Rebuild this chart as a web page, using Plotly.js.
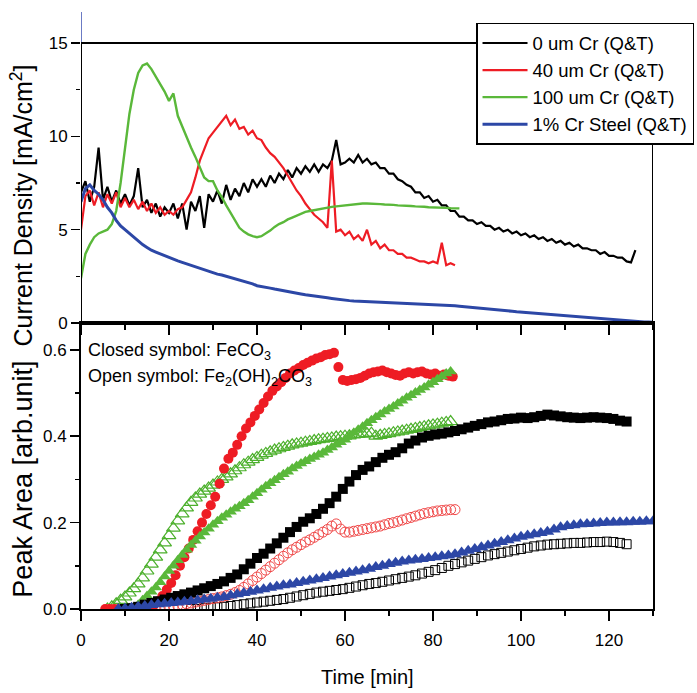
<!DOCTYPE html>
<html>
<head>
<meta charset="utf-8">
<script src="https://cdn.plot.ly/plotly-3.0.1.min.js"></script>
<style>html,body{margin:0;padding:0;background:#fff;}#chart{width:697px;height:693px;}</style>
</head>
<body>
<div id="chart"></div>
<script>
// ---------- Top panel: current density [mA/cm2], sampled every 1 min ----------
const seriesNames = ["0 um Cr (Q&T)", "40 um Cr (Q&T)", "100 um Cr (Q&T)", "1% Cr Steel (Q&T)"];

const cd_0um = [7.0, 7.6, 6.5, 7.3, 9.4, 6.6, 7.3, 6.5, 7.1, 6.4,
  6.9, 6.3, 6.8, 8.3, 6.2, 6.6, 5.9, 6.4, 5.7, 6.2,
  5.9, 6.4, 5.6, 6.4, 5.0, 6.5, 6.0, 6.8, 5.1, 6.9,
  6.5, 7.1, 6.4, 7.4, 6.6, 7.2, 6.8, 7.5, 7.0, 7.7,
  7.3, 7.7, 7.3, 7.9, 7.5, 8.0, 7.7, 8.2, 7.8, 8.3,
  8.0, 8.4, 8.1, 8.5, 8.1, 8.5, 8.3, 8.7, 9.8, 8.5,
  8.6, 8.8, 8.6, 9.0, 8.6, 8.8, 8.5, 8.6, 8.3, 8.3,
  8.0, 8.0, 7.7, 7.6, 7.4, 7.3, 7.0, 7.0, 6.7, 6.8,
  6.5, 6.6, 6.3, 6.3, 6.0, 6.0, 5.7, 5.7, 5.5, 5.5,
  5.3, 5.4, 5.2, 5.2, 5.0, 5.1, 4.9, 5.0, 4.8, 4.9,
  4.7, 4.8, 4.6, 4.7, 4.5, 4.6, 4.4, 4.5, 4.3, 4.4,
  4.2, 4.3, 4.1, 4.2, 4.0, 4.0, 3.9, 3.9, 3.7, 3.8,
  3.6, 3.6, 3.5, 3.5, 3.3, 3.25, 3.9];

const cd_40um = [5.0, 6.8, 7.1, 6.3, 7.0, 6.2, 6.9, 6.4, 7.0, 6.2,
  6.7, 6.2, 6.6, 6.1, 6.5, 6.0, 6.4, 5.9, 6.2, 5.8,
  6.0, 5.8, 6.1, 6.2, 6.6, 7.0, 7.8, 8.7, 9.3, 9.9,
  10.2, 10.5, 10.8, 11.1, 10.6, 10.9, 10.4, 10.5, 10.1, 10.3,
  9.9, 9.8, 9.4, 9.1, 8.9, 8.6, 8.3, 7.9, 7.5, 7.1,
  6.8, 6.4, 6.1, 5.8, 5.6, 5.4, 5.1, 8.7, 4.9, 5.0,
  4.7, 4.9, 4.5, 4.7, 4.4, 5.0, 4.2, 4.4, 4.0, 4.2,
  3.9, 3.9, 3.7, 3.7, 3.5, 3.5, 3.4, 3.3, 3.3, 3.2,
  3.3, 3.2, 4.3, 3.1, 3.2, 3.1];

const cd_100um = [2.4, 3.7, 4.2, 4.6, 4.8, 4.9, 5.0, 5.3, 6.0, 7.5,
  9.4, 11.2, 12.5, 13.4, 13.8, 13.9, 13.6, 13.2, 12.8, 12.4,
  11.9, 12.3, 11.1, 10.5, 9.95, 9.4, 8.9, 8.3, 7.8, 7.6,
  7.6, 7.1, 6.75, 6.3, 5.9, 5.5, 5.1, 4.9, 4.75, 4.65,
  4.6, 4.65, 4.8, 4.95, 5.15, 5.3, 5.4, 5.55, 5.65, 5.75,
  5.85, 5.95, 6.0, 6.05, 6.1, 6.15, 6.2, 6.22, 6.25, 6.28,
  6.3, 6.32, 6.35, 6.37, 6.4, 6.4, 6.4, 6.38, 6.37, 6.35,
  6.35, 6.33, 6.3, 6.3, 6.28, 6.27, 6.25, 6.25, 6.23, 6.2,
  6.2, 6.2, 6.18, 6.17, 6.15, 6.15, 6.14];

const cd_1pct = [6.5, 7.2, 7.4, 7.1, 6.9, 6.6, 6.2, 5.9, 5.5, 5.2,
  5.0, 4.8, 4.55, 4.4, 4.2, 4.05, 3.9, 3.8, 3.7, 3.6,
  3.5, 3.42, 3.33, 3.25, 3.17, 3.1, 3.0, 2.92, 2.85, 2.75,
  2.67, 2.62, 2.57, 2.5, 2.45, 2.4, 2.33, 2.25, 2.17, 2.1,
  2.0, 1.97, 1.92, 1.87, 1.82, 1.77, 1.72, 1.67, 1.63, 1.6,
  1.56, 1.52, 1.48, 1.45, 1.42, 1.38, 1.35, 1.32, 1.28, 1.25,
  1.22, 1.2, 1.18, 1.17, 1.15, 1.14, 1.13, 1.12, 1.11, 1.1,
  1.09, 1.08, 1.07, 1.06, 1.05, 1.04, 1.03, 1.02, 1.01, 1.0,
  1.0, 0.99, 0.97, 0.95, 0.94, 0.92, 0.9, 0.88, 0.86, 0.85,
  0.83, 0.81, 0.79, 0.77, 0.74, 0.72, 0.69, 0.66, 0.63, 0.6,
  0.58, 0.56, 0.54, 0.52, 0.5, 0.48, 0.46, 0.44, 0.42, 0.41,
  0.39, 0.37, 0.35, 0.33, 0.31, 0.3, 0.28, 0.27, 0.25, 0.24,
  0.22, 0.2, 0.18, 0.16, 0.14, 0.12, 0.1, 0.08, 0.06, 0.05, 0.04];

// ---------- Bottom panel: peak area [arb.unit] ----------
// FeCO3 (closed symbols)
const fe_40um_closed = [0, 0, 0, 0, 0, 0, 0, 0.002, 0.003, 0.004, 0.005,
  0.008, 0.018, 0.03, 0.045, 0.06, 0.078, 0.1, 0.12, 0.14, 0.16,
  0.18, 0.2, 0.22, 0.24, 0.26, 0.29, 0.325, 0.348, 0.362, 0.38,
  0.4, 0.418, 0.432, 0.447, 0.462, 0.477, 0.492, 0.505, 0.515, 0.525,
  0.535, 0.545, 0.552, 0.558, 0.565, 0.57, 0.575, 0.58, 0.583, 0.588,
  0.59, 0.593, 0.56, 0.53, 0.528, 0.53, 0.532, 0.535, 0.54, 0.545,
  0.548, 0.55, 0.552, 0.548, 0.545, 0.542, 0.54, 0.545, 0.548, 0.545,
  0.548, 0.55, 0.545, 0.543, 0.545, 0.54, 0.543, 0.54, 0.538];
const fe_100um_closed = [0, 0, 0.002, 0.004, 0.01, 0.02, 0.03, 0.04, 0.05, 0.062,
  0.075, 0.088, 0.1, 0.113, 0.125, 0.137, 0.148, 0.158, 0.168, 0.177,
  0.186, 0.195, 0.203, 0.211, 0.218, 0.225, 0.232, 0.238, 0.245, 0.252,
  0.26, 0.268, 0.276, 0.284, 0.291, 0.298, 0.305, 0.312, 0.318, 0.325,
  0.331, 0.337, 0.342, 0.347, 0.352, 0.357, 0.362, 0.368, 0.374, 0.38,
  0.386, 0.392, 0.4, 0.408, 0.415, 0.422, 0.43, 0.437, 0.444, 0.45,
  0.457, 0.463, 0.469, 0.476, 0.482, 0.489, 0.495, 0.501, 0.507, 0.513,
  0.519, 0.525, 0.532, 0.538, 0.545, 0.55];
const fe_0um_closed = [0, 0.002, 0.005, 0.01, 0.014, 0.018, 0.022, 0.026, 0.03, 0.034,
  0.038, 0.043, 0.048, 0.053, 0.058, 0.064, 0.072, 0.08, 0.092, 0.105,
  0.118, 0.128, 0.14, 0.152, 0.165, 0.178, 0.19, 0.202, 0.21, 0.22,
  0.232, 0.245, 0.26, 0.278, 0.295, 0.31, 0.322, 0.33, 0.34, 0.35,
  0.357, 0.363, 0.372, 0.383, 0.39, 0.397, 0.401, 0.404, 0.406, 0.409,
  0.412, 0.416, 0.42, 0.424, 0.428, 0.432, 0.434, 0.437, 0.44, 0.441,
  0.443, 0.442, 0.444, 0.447, 0.45, 0.448, 0.446, 0.444, 0.443, 0.442,
  0.443, 0.444, 0.443, 0.442, 0.44, 0.436, 0.434];
const fe_1pct_closed = [0, 0.001, 0.003, 0.005, 0.007, 0.009, 0.011, 0.012, 0.014, 0.015,
  0.017, 0.018, 0.02, 0.022, 0.024, 0.026, 0.028, 0.031, 0.034, 0.037,
  0.04, 0.043, 0.046, 0.049, 0.052, 0.055, 0.057, 0.06, 0.063, 0.066,
  0.069, 0.072, 0.075, 0.078, 0.081, 0.084, 0.087, 0.09, 0.093, 0.097,
  0.1, 0.104, 0.107, 0.11, 0.112, 0.114, 0.116, 0.118, 0.12, 0.122,
  0.124, 0.127, 0.131, 0.135, 0.139, 0.143, 0.147, 0.151, 0.155, 0.159,
  0.163, 0.167, 0.17, 0.173, 0.176, 0.179, 0.184, 0.189, 0.192, 0.194,
  0.196, 0.197, 0.198, 0.199, 0.2, 0.2, 0.201, 0.201, 0.202, 0.202,
  0.203, 0.203];
// Fe2(OH)2CO3 (open symbols)
const hy_0um_open = [0, 0, 0.002, 0.003, 0.004, 0.005, 0.007, 0.009, 0.011, 0.013,
  0.015, 0.017, 0.019, 0.021, 0.023, 0.026, 0.029, 0.032, 0.035, 0.038,
  0.04, 0.042, 0.044, 0.046, 0.049, 0.052, 0.055, 0.058, 0.06, 0.063,
  0.066, 0.069, 0.072, 0.075, 0.078, 0.082, 0.086, 0.09, 0.095, 0.1,
  0.104, 0.108, 0.112, 0.116, 0.12, 0.124, 0.127, 0.13, 0.133, 0.136,
  0.139, 0.142, 0.145, 0.147, 0.149, 0.15, 0.151, 0.152, 0.153, 0.153,
  0.154, 0.155, 0.155, 0.156, 0.155, 0.153, 0.15];
const hy_40um_open = [0, 0.001, 0.002, 0.003, 0.004, 0.005, 0.006, 0.008, 0.01, 0.012,
  0.014, 0.016, 0.018, 0.02, 0.022, 0.024, 0.026, 0.028, 0.031, 0.034,
  0.038, 0.043, 0.05, 0.058, 0.066, 0.074, 0.082, 0.09, 0.098, 0.106,
  0.114, 0.122, 0.13, 0.137, 0.143, 0.149, 0.155, 0.16, 0.166, 0.172,
  0.178, 0.184, 0.192, 0.197, 0.185, 0.178, 0.178, 0.18, 0.182, 0.184,
  0.186, 0.188, 0.19, 0.192, 0.195, 0.198, 0.2, 0.203, 0.206, 0.209,
  0.212, 0.215, 0.218, 0.221, 0.223, 0.225, 0.227, 0.228, 0.229, 0.23, 0.23];
const hy_100um_open = [0, 0.005, 0.012, 0.02, 0.028, 0.037, 0.047, 0.058, 0.072, 0.088,
  0.104, 0.12, 0.137, 0.153, 0.17, 0.187, 0.204, 0.22, 0.234, 0.247,
  0.257, 0.266, 0.273, 0.28, 0.287, 0.294, 0.3, 0.306, 0.313, 0.32,
  0.327, 0.334, 0.34, 0.346, 0.351, 0.356, 0.36, 0.364, 0.368, 0.371,
  0.374, 0.377, 0.38, 0.382, 0.384, 0.386, 0.388, 0.39, 0.392, 0.393,
  0.395, 0.396, 0.398, 0.399, 0.4, 0.401, 0.403, 0.404, 0.405, 0.406,
  0.407, 0.4, 0.402, 0.404, 0.406, 0.408, 0.41, 0.412, 0.414, 0.416,
  0.418, 0.42, 0.422, 0.424, 0.426, 0.428, 0.43, 0.432, 0.434];

const xTicks = [0, 20, 40, 60, 80, 100, 120];
const cdTicks = [0, 5, 10, 15];
const paTicks = [0.0, 0.2, 0.4, 0.6];

const FONT = "Liberation Sans, Arial, Helvetica, sans-serif";
const BLACK = "#000000", RED = "#ee1c24", GREEN = "#5ab83a", BLUE = "#2c47a6";

const topLine = (y, name, color, w) => ({
  type: "scatter", mode: "lines", x0: 0, dx: 1, y: y, name: name,
  xaxis: "x", yaxis: "y", line: {color: color, width: w}, showlegend: true
});
const pts = (y, x0, dx, symbol, color, size, lw) => ({
  type: "scatter", mode: "markers", x0: x0, dx: dx, y: y,
  xaxis: "x2", yaxis: "y2", showlegend: false,
  marker: {symbol: symbol, color: color, size: size, line: {color: color, width: lw || 0}}
});

const data = [
  topLine(cd_0um, seriesNames[0], BLACK, 2.2),
  topLine(cd_40um, seriesNames[1], RED, 2.2),
  topLine(cd_100um, seriesNames[2], GREEN, 2.4),
  topLine(cd_1pct, seriesNames[3], BLUE, 3),
  pts(hy_0um_open, 25, 1.5, "square-open", BLACK, 9, 1),
  pts(hy_40um_open, 15, 1, "circle-open", "#f04848", 10, 1),
  pts(hy_100um_open, 6, 1, "triangle-up-open", "#4cb02c", 12, 1.2),
  pts(fe_40um_closed, 5.5, 1, "circle", RED, 10),
  pts(fe_100um_closed, 9, 1, "triangle-up", GREEN, 11),
  pts(fe_0um_closed, 10, 1.5, "square", BLACK, 10),
  pts(fe_1pct_closed, 8.5, 1.5, "triangle-up", BLUE, 12)
];

const tickFont = {family: FONT, size: 17, color: "#000"};
const minorX = {dtick: 10, ticks: "outside", ticklen: 5, tickwidth: 1.5, tickcolor: "#000"};

const layout = {
  width: 697, height: 693,
  margin: {l: 81, r: 44, t: 12, b: 84, pad: 0, autoexpand: false},
  paper_bgcolor: "#fff", plot_bgcolor: "#fff",
  font: {family: FONT, color: "#000"},
  showlegend: true,
  legend: {
    x: 0.6906, y: 0.9816, xanchor: "left", yanchor: "top",
    bgcolor: "#fff", bordercolor: "#000", borderwidth: 1.5,
    font: {family: FONT, size: 18.5, color: "#000"},
    itemwidth: 45, tracegroupgap: 0
  },
  xaxis: {
    domain: [0, 1], range: [0, 130], anchor: "y", automargin: false,
    showgrid: false, zeroline: false, showline: true, linecolor: "#000", linewidth: 2,
    ticks: "outside", ticklen: 10, tickwidth: 1.5, tickcolor: "#000",
    tickvals: xTicks, showticklabels: false, minor: minorX
  },
  yaxis: {
    domain: [0.479, 1], range: [0, 16.66], anchor: "x", automargin: false,
    showgrid: false, zeroline: false, showline: false,
    ticks: "outside", ticklen: 9, tickwidth: 1.5, tickcolor: "#000",
    tickvals: cdTicks, ticktext: cdTicks.map(String), tickfont: tickFont,
    minor: {dtick: 2.5, tick0: 0, ticks: "outside", ticklen: 4, tickwidth: 1.5, tickcolor: "#000"}
  },
  xaxis2: {
    domain: [0, 1], range: [0, 130], anchor: "y2", automargin: false,
    showgrid: false, zeroline: false, showline: true, mirror: true, linecolor: "#000", linewidth: 2,
    ticks: "outside", ticklen: 10, tickwidth: 1.5, tickcolor: "#000", ticklabelstandoff: 5,
    tickvals: xTicks, ticktext: xTicks.map(String), tickfont: tickFont, minor: minorX
  },
  yaxis2: {
    domain: [0, 0.479], range: [0, 0.662], anchor: "x2", automargin: false,
    showgrid: false, zeroline: false, showline: true, mirror: true, linecolor: "#000", linewidth: 2,
    ticks: "outside", ticklen: 9, tickwidth: 1.5, tickcolor: "#000",
    tickvals: paTicks, ticktext: paTicks.map(v => v.toFixed(1)), tickfont: tickFont,
    minor: {dtick: 0.1, tick0: 0, ticks: "outside", ticklen: 4, tickwidth: 1.5, tickcolor: "#000"}
  },
  shapes: [
    {type: "line", xref: "x", yref: "y", x0: 0, x1: 0, y0: 0, y1: 15, line: {color: "#000", width: 2}},
    {type: "line", xref: "x", yref: "y", x0: 0, x1: 0, y0: 15, y1: 16.66, line: {color: "#3a4fb0", width: 1.5}},
    {type: "line", xref: "x", yref: "y", x0: 0, x1: 130, y0: 15, y1: 15, line: {color: "#000", width: 2}},
    {type: "line", xref: "x", yref: "y", x0: 130, x1: 130, y0: 0, y1: 15, line: {color: "#000", width: 2}}
  ],
  annotations: [
    {text: "Current Density [mA/cm<sup>2</sup>]", xref: "paper", yref: "y", x: -0.103, y: 6.3,
     xanchor: "center", yanchor: "middle", textangle: -90, showarrow: false,
     font: {family: FONT, size: 25, color: "#000"}},
    {text: "Peak Area [arb.unit]", xref: "paper", yref: "y2", x: -0.101, y: 0.30,
     xanchor: "center", yanchor: "middle", textangle: -90, showarrow: false,
     font: {family: FONT, size: 27, color: "#000"}},
    {text: "Time [min]", xref: "paper", yref: "paper", x: 0.5, y: -0.114,
     xanchor: "center", yanchor: "middle", showarrow: false,
     font: {family: FONT, size: 20, color: "#000"}},
    {text: "Closed symbol: FeCO<sub>3</sub>", xref: "x2", yref: "y2", x: 1.2, y: 0.596,
     xanchor: "left", yanchor: "middle", showarrow: false,
     font: {family: FONT, size: 18, color: "#000"}},
    {text: "Open symbol: Fe<sub>2</sub>(OH)<sub>2</sub>CO<sub>3</sub>", xref: "x2", yref: "y2", x: 1.2, y: 0.536,
     xanchor: "left", yanchor: "middle", showarrow: false,
     font: {family: FONT, size: 18, color: "#000"}}
  ]
};

Plotly.newPlot("chart", data, layout, {displayModeBar: false, staticPlot: true});
</script>
</body>
</html>
